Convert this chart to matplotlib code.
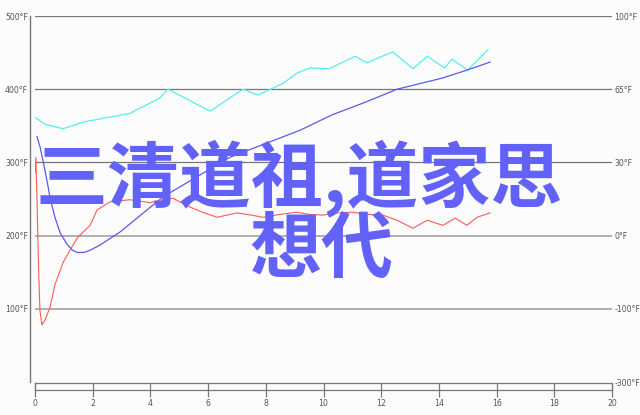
import numpy as np
import matplotlib
matplotlib.use("Agg")
from matplotlib import pyplot as plt

# time axis (0..20) and three traces in left-axis units
cyan_x = [0.03, 0.35, 0.97, 1.66, 3.29, 4.33, 4.61, 6.07, 7.21, 7.73, 8.60, 9.08, 9.53,
          10.2, 11.1, 11.5, 12.4, 13.1, 13.6, 14.2, 14.45, 15.0, 15.7]
cyan_y = [361, 352, 346, 355, 367, 388, 400, 370, 400, 392, 408, 422, 429,
          428, 445, 436, 451, 428, 445, 429, 441, 426, 454]

blue_x = [0.07, 0.17, 0.28, 0.42, 0.52, 0.69, 0.87, 1.11, 1.30, 1.46, 1.70, 1.91, 2.25,
          2.95, 4.44, 6.76, 9.19, 10.3, 11.5, 12.55, 14.1, 14.97, 15.77]
blue_y = [335, 322, 302, 274, 252, 225, 204, 188, 180, 177, 177, 180, 187,
          205, 253, 307, 344, 365, 383, 400, 415, 426, 437]

red_x = [0.0, 0.03, 0.07, 0.10, 0.14, 0.17, 0.24, 0.35, 0.52, 0.69, 0.97, 1.21, 1.49,
         1.91, 2.15, 2.6, 3.29, 3.99, 4.3, 4.78, 5.37, 5.8, 6.31, 7.0, 7.5, 7.9, 8.5,
         9.08, 9.5, 9.98, 10.5, 11.0, 11.5, 12.06, 12.55, 13.1, 13.6, 14.14, 14.56,
         14.97, 15.32, 15.77]
red_y = [286, 307, 249, 194, 135, 98, 78, 85, 102, 133, 163, 180, 198,
         214, 235, 246, 249, 245, 248, 251, 239, 232, 225, 231, 228, 225, 229,
         232, 229, 228, 231, 232, 229, 228, 221, 210, 221, 214, 224,
         214, 225, 231]

left_ticks = [100, 200, 300, 400, 500]
left_labels = ["100°F", "200°F", "300°F", "400°F", "500°F"]
right_ticks = [0, 100, 200, 300, 400, 500]
right_labels = ["-300°F", "-100°F", "0°F", "30°F", "65°F", "100°F"]
grid_dark = [300, 400, 500]
grid_light = [100, 200]
x_ticks = list(range(0, 21, 2))

title_line1 = "三清道祖,道家思"
title_line2 = "想代"

W, H = 640, 415
small = dict(family=["Liberation Sans Narrow", "DejaVu Sans"], size=5.6, color="#555555")

fig = plt.figure(figsize=(W / 100, H / 100), dpi=100)
fig.patch.set_facecolor("#fcfcfc")

ax = fig.add_axes([35 / W, 1 - 382 / H, (612 - 35) / W, (382 - 16) / H])
ax.set_facecolor("none")
ax.set_xlim(0, 20)
ax.set_ylim(0, 500)
for s in ["top", "right", "bottom"]:
    ax.spines[s].set_visible(False)
ax.spines["left"].set_position(("outward", 3.6))
ax.spines["left"].set_color("#777777")
ax.spines["left"].set_linewidth(1)
ax.set_xticks([])
ax.set_yticks(left_ticks)
ax.set_yticklabels(left_labels, **small)
ax.tick_params(axis="y", length=0, pad=1.5)

for g in grid_dark:
    ax.axhline(g, color="#777777", lw=0.9, zorder=1)
for g in grid_light:
    ax.axhline(g, color="#aaaaaa", lw=1.3, zorder=1)

ax.plot(cyan_x, cyan_y, color="#55eeee", lw=0.9, zorder=3)
ax.plot(blue_x, blue_y, color="#5a5aee", lw=0.9, zorder=3)
ax.plot(red_x, red_y, color="#ff5a5a", lw=0.8, zorder=3)

ax2 = ax.twinx()
ax2.set_ylim(0, 500)
for s in ax2.spines.values():
    s.set_visible(False)
ax2.set_yticks(right_ticks)
ax2.set_yticklabels(right_labels, **small)
ax2.tick_params(axis="y", length=0, pad=1.8)

# bottom time strip
axb = fig.add_axes([35 / W, 1 - 390 / H, (612 - 35) / W, 7 / H])
axb.set_facecolor("none")
axb.set_xlim(0, 20)
axb.set_yticks([])
axb.set_xticks(x_ticks)
axb.set_xticklabels([str(t) for t in x_ticks], **small)
axb.tick_params(axis="x", direction="inout", length=10, width=0.9, color="#777777", pad=1.5)
for s in axb.spines.values():
    s.set_color("#777777")
    s.set_linewidth(0.9)

title = dict(family=["Noto Sans CJK SC", "DejaVu Sans"], fontsize=51.8,
             fontweight="bold", color="#6262fa", va="center", ha="left", zorder=5)
fig.text(35 / W, 1 - 178.5 / H, title_line1, **title)
fig.text(249 / W, 1 - 250.5 / H, title_line2, **title)

fig.savefig("out.png", dpi=100, facecolor=fig.get_facecolor())
